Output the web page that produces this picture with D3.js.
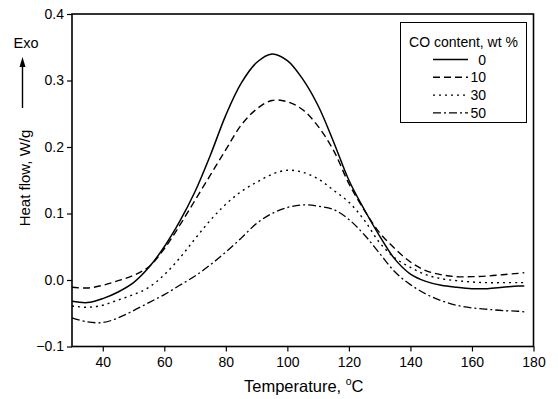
<!DOCTYPE html>
<html>
<head>
<meta charset="utf-8">
<script src="https://cdn.jsdelivr.net/npm/d3@7"></script>
<style>
body { margin: 0; background: #fff; }
svg { font-family: "Liberation Sans", Arial, sans-serif; }
</style>
</head>
<body>
<svg id="chart"></svg>
<script>
// temperature points, °C
let temps = [30, 35, 40, 45, 50, 55, 60, 65, 70, 75, 80, 85, 90, 95, 100, 105, 110, 115, 120,
             125, 130, 135, 140, 145, 150, 155, 160, 165, 170, 175, 177];
// heat flow, W/g for each CO content
let co0  = [-0.032, -0.034, -0.028, -0.018, -0.004, 0.019, 0.050, 0.088, 0.133, 0.188, 0.248, 0.296, 0.327, 0.340,
            0.330, 0.302, 0.262, 0.208, 0.150, 0.106, 0.066, 0.031, 0.009, -0.002, -0.008, -0.011, -0.013, -0.013, -0.011, -0.009, -0.009];
let co10 = [-0.011, -0.012, -0.008, -0.001, 0.007, 0.020, 0.047, 0.082, 0.120, 0.158, 0.196, 0.233, 0.257, 0.270,
            0.268, 0.256, 0.231, 0.195, 0.145, 0.105, 0.071, 0.047, 0.027, 0.014, 0.008, 0.005, 0.005, 0.006, 0.008, 0.010, 0.011];
let co30 = [-0.039, -0.041, -0.038, -0.030, -0.022, -0.011, 0.008, 0.033, 0.062, 0.090, 0.114, 0.133, 0.147, 0.159,
            0.165, 0.162, 0.152, 0.135, 0.117, 0.090, 0.056, 0.033, 0.019, 0.008, 0.002, -0.001, -0.003, -0.004, -0.004, -0.004, -0.004];
let co50 = [-0.057, -0.063, -0.064, -0.057, -0.046, -0.034, -0.022, -0.008, 0.006, 0.023, 0.042, 0.063, 0.085, 0.100,
            0.109, 0.113, 0.111, 0.106, 0.091, 0.068, 0.040, 0.012, -0.007, -0.021, -0.031, -0.038, -0.042, -0.044, -0.046, -0.047, -0.048];
let seriesNames = ["0", "10", "30", "50"];
let xTicks = [40, 60, 80, 100, 120, 140, 160, 180];
let yTicks = [-0.1, 0.0, 0.1, 0.2, 0.3, 0.4];

let width = 558, height = 399;
let plotLeft = 72, plotRight = 533.5, plotTop = 14, plotBottom = 346.5;

let svg = d3.select("#chart").attr("width", width).attr("height", height);
svg.append("rect").attr("width", width).attr("height", height).attr("fill", "#fff");

let x = d3.scaleLinear().domain([30, 180]).range([plotLeft, plotRight]);
let y = d3.scaleLinear().domain([-0.1, 0.4]).range([plotBottom, plotTop]);

// frame
svg.append("rect")
    .attr("x", plotLeft).attr("y", plotTop)
    .attr("width", plotRight - plotLeft).attr("height", plotBottom - plotTop)
    .attr("fill", "none").attr("stroke", "#000").attr("stroke-width", 1.6);

// x axis: minor ticks then major ticks with labels
let xAxisG = svg.append("g").attr("transform", `translate(0, ${plotBottom})`);
xAxisG.call(d3.axisBottom(x).tickValues(d3.range(30, 181, 10)).tickSize(3).tickFormat(""));
xAxisG.call(d3.axisBottom(x).tickValues(xTicks).tickSize(5).tickPadding(6).tickFormat(d3.format("d")));
let yAxisG = svg.append("g").attr("transform", `translate(${plotLeft}, 0)`);
yAxisG.call(d3.axisLeft(y).tickValues(d3.range(-0.1, 0.41, 0.05)).tickSize(3).tickFormat(""));
yAxisG.call(d3.axisLeft(y).tickValues(yTicks).tickSize(5).tickPadding(3).tickFormat(d3.format(".1f")));
svg.selectAll(".domain").remove();
svg.selectAll(".tick line").attr("stroke", "#000").attr("stroke-width", 1.2);
svg.selectAll(".tick text").attr("font-size", 14).attr("fill", "#000")
    .attr("font-family", "Liberation Sans, Arial, sans-serif");

// axis titles
let xt = svg.append("text").attr("x", (plotLeft + plotRight) / 2 + 1).attr("y", 392)
    .attr("text-anchor", "middle").attr("font-size", 16.5).attr("fill", "#000");
xt.append("tspan").text("Temperature, ");
xt.append("tspan").text("o").attr("font-size", 10.5).attr("dy", -7);
xt.append("tspan").text("C").attr("dy", 7);

svg.append("text")
    .attr("transform", "translate(30, 178) rotate(-90)")
    .attr("text-anchor", "middle").attr("font-size", 15).attr("fill", "#000")
    .text("Heat flow, W/g");

svg.append("text").attr("x", 26).attr("y", 48).attr("text-anchor", "middle")
    .attr("font-size", 14.5).attr("fill", "#000").text("Exo");
svg.append("line").attr("x1", 22.5).attr("x2", 22.5).attr("y1", 108).attr("y2", 64)
    .attr("stroke", "#000").attr("stroke-width", 1.4);
svg.append("path").attr("d", "M22.5,57 L19.5,67 L25.5,67 Z").attr("fill", "#000");

// curves
let dashes = [null, "7,4", "2,4", "8,3,2,3"];
let widths = [1.5, 1.4, 1.4, 1.3];
let allSeries = [co0, co10, co30, co50];
let line = d3.line()
    .x((d, i) => x(temps[i]))
    .y(d => y(d))
    .curve(d3.curveCatmullRom.alpha(0.5));

svg.append("g").selectAll("path")
    .data(allSeries)
    .enter().append("path")
    .attr("d", d => line(d))
    .attr("fill", "none")
    .attr("stroke", "#000")
    .attr("stroke-width", (d, i) => widths[i])
    .attr("stroke-dasharray", (d, i) => dashes[i]);

// legend
let lg = svg.append("g");
lg.append("rect").attr("x", 400.5).attr("y", 22.5).attr("width", 126).attr("height", 100)
    .attr("fill", "#fff").attr("stroke", "#000").attr("stroke-width", 1);
lg.append("text").attr("x", 463.5).attr("y", 47).attr("text-anchor", "middle")
    .attr("font-size", 14).attr("fill", "#000").text("CO content, wt %");
seriesNames.forEach(function(name, i) {
    let cy = 59.5 + i * 17.8;
    lg.append("line").attr("x1", 433).attr("x2", 468).attr("y1", cy).attr("y2", cy)
        .attr("stroke", "#000").attr("stroke-width", widths[i])
        .attr("stroke-dasharray", dashes[i]);
    lg.append("text").attr("x", 486).attr("y", cy + 5).attr("text-anchor", "end")
        .attr("font-size", 14).attr("fill", "#000").text(name);
});
</script>
</body>
</html>
